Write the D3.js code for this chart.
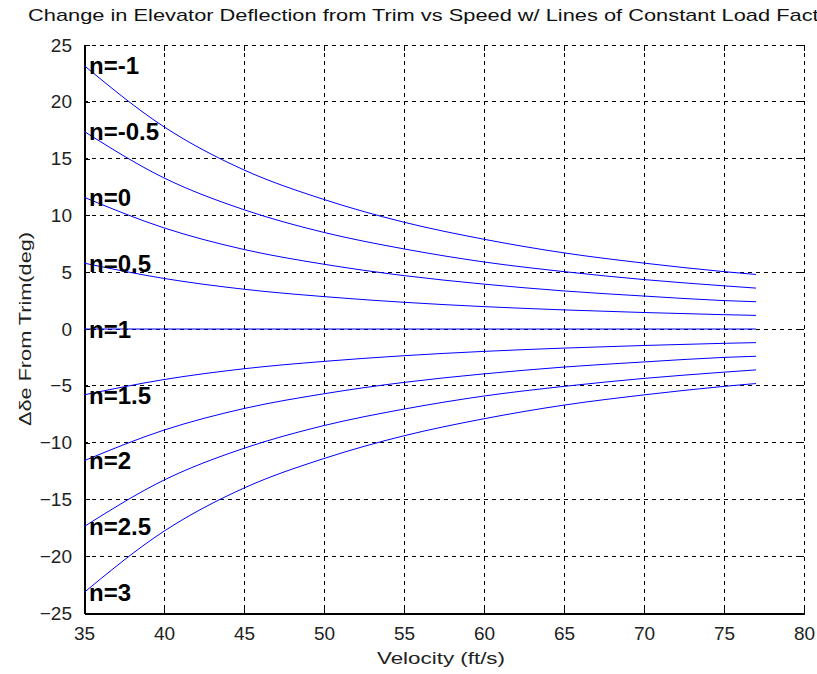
<!DOCTYPE html>
<html>
<head>
<meta charset="utf-8">
<script src="https://cdn.jsdelivr.net/npm/d3@7"></script>
<style>
body { margin: 0; background: #fff; }
svg { display: block; }
</style>
</head>
<body>
<div id="chartDiv"></div>
<script>
var velocity = [35, 40, 45, 50, 55, 60, 65, 70, 75, 77];

var loadFactors = ["-1", "-0.5", "0", "0.5", "1", "1.5", "2", "2.5", "3"];

var nMinus1   = [23.2, 17.8, 14.0, 11.4, 9.4, 7.9, 6.7, 5.8, 5.05, 4.8];
var nMinus05  = [17.4, 13.3, 10.5, 8.5, 7.05, 5.9, 5.05, 4.35, 3.8, 3.6];
var n0        = [11.6, 8.9, 7.0, 5.7, 4.7, 3.95, 3.35, 2.9, 2.5, 2.4];
var n05       = [5.8, 4.45, 3.5, 2.85, 2.35, 1.97, 1.68, 1.45, 1.26, 1.2];
var n1        = [0, 0, 0, 0, 0, 0, 0, 0, 0, 0];
var n15       = [-5.8, -4.45, -3.5, -2.85, -2.35, -1.97, -1.68, -1.45, -1.26, -1.2];
var n2        = [-11.6, -8.9, -7.0, -5.7, -4.7, -3.95, -3.35, -2.9, -2.5, -2.4];
var n25       = [-17.4, -13.3, -10.5, -8.5, -7.05, -5.9, -5.05, -4.35, -3.8, -3.6];
var n3        = [-23.2, -17.8, -14.0, -11.4, -9.4, -7.9, -6.7, -5.8, -5.05, -4.8];

var seriesValues = [nMinus1, nMinus05, n0, n05, n1, n15, n2, n25, n3];

var xTicks = [35, 40, 45, 50, 55, 60, 65, 70, 75, 80];
var yTicks = [-25, -20, -15, -10, -5, 0, 5, 10, 15, 20, 25];

;(function() {
	var width = 817;
	var height = 674;
	var margin = { top: 45, right: 13, bottom: 61, left: 84 };
	var chartWidth = width - margin.left - margin.right;
	var chartHeight = height - margin.top - margin.bottom;
	var tickFont = "Liberation Sans, Arial, sans-serif";

	var svg = d3.select("#chartDiv").append("svg")
		.attr("width", width)
		.attr("height", height);

	var plot = svg.append("g")
		.attr("transform", "translate(" + margin.left + "," + margin.top + ")");

	var xScale = d3.scaleLinear().domain([35, 80]).range([0, chartWidth]);
	var yScale = d3.scaleLinear().domain([-25, 25]).range([chartHeight, 0]);

	// dashed grid
	plot.append("g").selectAll("line").data(xTicks).enter().append("line")
		.attr("x1", function(d) { return xScale(d); })
		.attr("x2", function(d) { return xScale(d); })
		.attr("y1", 0).attr("y2", chartHeight)
		.attr("stroke", "#000").attr("stroke-width", 1)
		.attr("stroke-dasharray", "4,4")
		.attr("shape-rendering", "crispEdges");

	plot.append("g").selectAll("line").data(yTicks).enter().append("line")
		.attr("y1", function(d) { return yScale(d); })
		.attr("y2", function(d) { return yScale(d); })
		.attr("x1", 0).attr("x2", chartWidth)
		.attr("stroke", "#000").attr("stroke-width", 1)
		.attr("stroke-dasharray", "4,4")
		.attr("shape-rendering", "crispEdges");

	// top and right inner ticks
	plot.append("g").selectAll("line").data(xTicks).enter().append("line")
		.attr("x1", function(d) { return xScale(d); })
		.attr("x2", function(d) { return xScale(d); })
		.attr("y1", 0).attr("y2", 6)
		.attr("stroke", "#000").attr("shape-rendering", "crispEdges");
	plot.append("g").selectAll("line").data(yTicks).enter().append("line")
		.attr("y1", function(d) { return yScale(d); })
		.attr("y2", function(d) { return yScale(d); })
		.attr("x1", chartWidth).attr("x2", chartWidth - 6)
		.attr("stroke", "#000").attr("shape-rendering", "crispEdges");

	// axes
	var xAxis = d3.axisBottom(xScale).tickValues(xTicks).tickSizeInner(-6).tickSizeOuter(0).tickPadding(14);
	var yAxis = d3.axisLeft(yScale).tickValues(yTicks).tickSizeInner(-6).tickSizeOuter(0).tickPadding(12);

	var gx = plot.append("g")
		.attr("transform", "translate(0," + chartHeight + ")")
		.call(xAxis);
	var gy = plot.append("g").call(yAxis);

	[gx, gy].forEach(function(g) {
		g.selectAll("path, line").attr("stroke", "#000").attr("shape-rendering", "crispEdges");
		g.select(".domain").attr("stroke-width", 2);
		g.selectAll("text")
			.attr("fill", "#222")
			.style("font-family", tickFont)
			.style("font-size", "19px");
	});

	// curves
	var line = d3.line()
		.x(function(d, i) { return xScale(velocity[i]); })
		.y(function(d) { return yScale(d); })
		.curve(d3.curveMonotoneX);

	plot.append("g").selectAll("path").data(seriesValues).enter().append("path")
		.attr("d", line)
		.attr("fill", "none")
		.attr("stroke", "#0000ff")
		.attr("stroke-width", 1);

	// labels at the start of each curve
	plot.append("g").selectAll("text").data(seriesValues).enter().append("text")
		.attr("x", xScale(35) + 5)
		.attr("y", function(d) { return yScale(d[0]); })
		.attr("dy", "0.36em")
		.style("font-family", tickFont)
		.style("font-weight", "bold")
		.style("font-size", "24px")
		.attr("fill", "#000")
		.text(function(d, i) { return "n=" + loadFactors[i]; });

	// title, clipped by the window on the right as in the original
	svg.append("text")
		.attr("x", 28)
		.attr("y", 21)
		.attr("textLength", 810)
		.attr("lengthAdjust", "spacingAndGlyphs")
		.style("font-family", tickFont)
		.style("font-size", "17px")
		.attr("fill", "#111")
		.text("Change in Elevator Deflection from Trim vs Speed w/ Lines of Constant Load Factor");

	svg.append("text")
		.attr("x", 441)
		.attr("y", 664)
		.attr("text-anchor", "middle")
		.attr("textLength", 128)
		.attr("lengthAdjust", "spacingAndGlyphs")
		.style("font-family", tickFont)
		.style("font-size", "17px")
		.attr("fill", "#222")
		.text("Velocity (ft/s)");

	svg.append("text")
		.attr("transform", "translate(31," + (margin.top + chartHeight / 2) + ") rotate(-90)")
		.attr("text-anchor", "middle")
		.attr("textLength", 194)
		.attr("lengthAdjust", "spacingAndGlyphs")
		.style("font-family", tickFont)
		.style("font-size", "17px")
		.attr("fill", "#222")
		.text("\u0394\u03b4e From Trim(deg)");
})();
</script>
</body>
</html>
